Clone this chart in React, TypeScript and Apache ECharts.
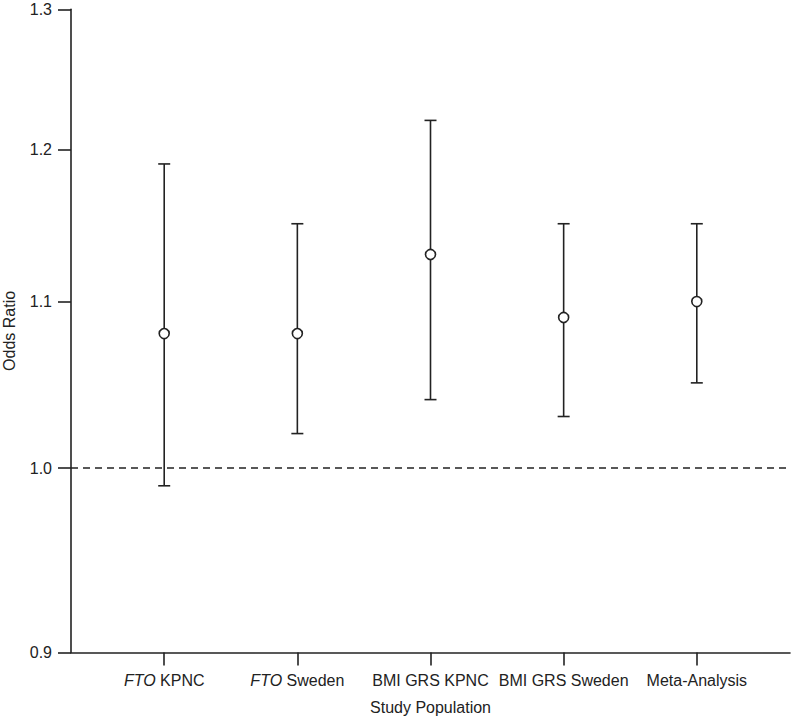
import React, { useEffect, useRef } from "react";
import * as echarts from "echarts";

const categories = ["FTO KPNC", "FTO Sweden", "BMI GRS KPNC", "BMI GRS Sweden", "Meta-Analysis"];
const oddsRatio = [1.08, 1.08, 1.13, 1.09, 1.1];
const ciLower = [0.99, 1.02, 1.04, 1.03, 1.05];
const ciUpper = [1.19, 1.15, 1.22, 1.15, 1.15];
const yTicks = [0.9, 1.0, 1.1, 1.2, 1.3];
const referenceValue = 1.0;

const FONT = "'Liberation Sans', Arial, Helvetica, sans-serif";
const INK = "#222222";

export default function App() {
  const ref = useRef<HTMLDivElement>(null);

  useEffect(() => {
    if (!ref.current) return;
    const chart = echarts.init(ref.current, undefined, { renderer: "svg" });
    const xs = categories.map((_, i) => i + 1);

    const option: any = {
      animation: false,
      backgroundColor: "#ffffff",
      grid: {
        left: 71,
        right: 1,
        top: 9.3,
        bottom: 64.5,
        containLabel: false,
        outerBoundsMode: "none",
      },
      xAxis: {
        type: "value",
        min: 0.3,
        max: 5.7,
        name: "Study Population",
        nameLocation: "middle",
        nameGap: 47,
        nameTextStyle: { fontSize: 16, fontFamily: FONT, color: INK },
        axisLine: { onZero: false, lineStyle: { color: INK, width: 1.6 } },
        axisTick: { show: true, inside: false, length: 13, lineStyle: { color: INK, width: 1.6 }, customValues: xs },
        axisLabel: {
          customValues: xs,
          margin: 20,
          fontSize: 16,
          fontFamily: FONT,
          color: INK,
          formatter: (v: number) => {
            const c = categories[Math.round(v) - 1] || "";
            return c.replace(/^FTO/, "{i|FTO}");
          },
          rich: {
            i: { fontStyle: "italic", fontSize: 16, fontFamily: FONT, color: INK },
          },
        },
        splitLine: { show: false },
      },
      yAxis: {
        type: "value",
        min: Math.log(yTicks[0]),
        max: Math.log(yTicks[yTicks.length - 1]),
        name: "Odds Ratio",
        nameLocation: "middle",
        nameGap: 54,
        nameTextStyle: { fontSize: 16, fontFamily: FONT, color: INK },
        axisLine: { show: true, onZero: false, lineStyle: { color: INK, width: 1.6 } },
        axisTick: {
          show: true,
          inside: false,
          length: 13,
          lineStyle: { color: INK, width: 1.6 },
          customValues: yTicks.map((t) => Math.log(t)),
        },
        axisLabel: {
          customValues: yTicks.map((t) => Math.log(t)),
          margin: 19,
          fontSize: 16,
          fontFamily: FONT,
          color: INK,
          formatter: (v: number) => Math.exp(v).toFixed(1),
        },
        splitLine: { show: false },
      },
      series: [
        {
          type: "custom",
          encode: { x: 0, y: [1, 2] },
          data: xs.map((x, i) => [x, Math.log(ciLower[i]), Math.log(ciUpper[i])]),
          renderItem: (params: any, api: any) => {
            const x = api.value(0);
            const lo = api.coord([x, api.value(1)]);
            const hi = api.coord([x, api.value(2)]);
            const hw = 6;
            const style = { stroke: INK, lineWidth: 1.6 };
            return {
              type: "group",
              children: [
                { type: "line", shape: { x1: lo[0], y1: lo[1], x2: hi[0], y2: hi[1] }, style },
                { type: "line", shape: { x1: lo[0] - hw, y1: lo[1], x2: lo[0] + hw, y2: lo[1] }, style },
                { type: "line", shape: { x1: hi[0] - hw, y1: hi[1], x2: hi[0] + hw, y2: hi[1] }, style },
              ],
            };
          },
          z: 2,
          markLine: {
            silent: true,
            symbol: "none",
            label: { show: false },
            lineStyle: { color: INK, width: 1.6, type: [7, 5] },
            data: [{ yAxis: Math.log(referenceValue) }],
          },
        },
        {
          type: "scatter",
          data: xs.map((x, i) => [x, Math.log(oddsRatio[i])]),
          symbol: "circle",
          symbolSize: 10,
          itemStyle: { color: "#ffffff", borderColor: INK, borderWidth: 1.6, opacity: 1 },
          z: 3,
        },
      ],
    };

    chart.setOption(option);
    return () => chart.dispose();
  }, []);

  return (
    <div
      ref={ref}
      style={{ position: "fixed", left: 0, top: 0, width: 791, height: 717, background: "#fff" }}
    />
  );
}
